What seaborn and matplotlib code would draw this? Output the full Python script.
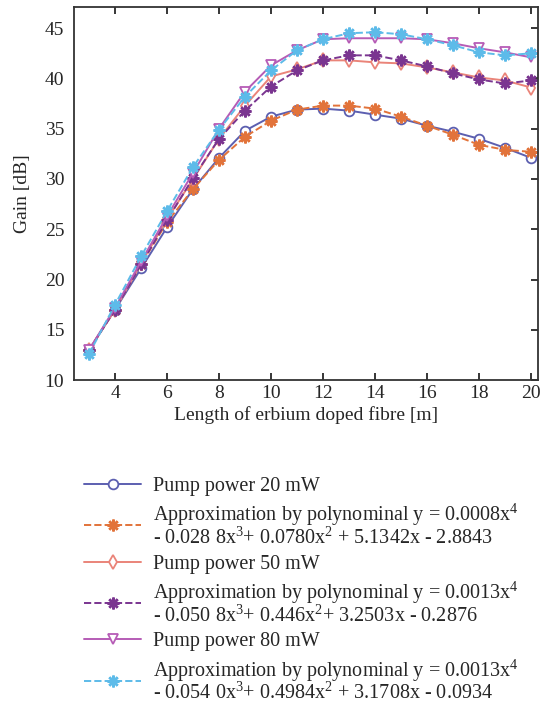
import matplotlib
matplotlib.use('Agg')
import matplotlib.pyplot as plt
import seaborn as sns
import pandas as pd

# Fibre lengths [m]
lengths = list(range(3, 21))

# Measured gain [dB] and polynomial approximations
pump_20 = [13.0, 17.0, 21.1, 25.2, 29.0, 32.1, 34.8, 36.2, 36.9, 37.0, 36.8, 36.4, 36.0, 35.3, 34.7, 34.0, 33.1, 32.1]
fit_20 = [13.0, 17.0, 21.5, 25.7, 29.0, 31.9, 34.2, 35.8, 36.9, 37.3, 37.3, 37.0, 36.2, 35.3, 34.4, 33.4, 32.9, 32.7]
pump_50 = [13.0, 17.0, 21.6, 26.0, 30.0, 34.0, 37.3, 40.2, 40.9, 41.8, 41.8, 41.6, 41.5, 41.1, 40.6, 40.1, 39.8, 39.1]
fit_50 = [13.0, 17.0, 21.5, 25.9, 30.1, 34.0, 36.8, 39.2, 40.8, 41.8, 42.3, 42.3, 41.8, 41.2, 40.5, 39.9, 39.5, 39.8]
pump_80 = [13.0, 17.2, 21.8, 26.3, 30.6, 35.0, 38.7, 41.3, 42.8, 43.9, 44.0, 44.0, 44.0, 43.9, 43.5, 43.0, 42.6, 42.1]
fit_80 = [12.6, 17.5, 22.3, 26.8, 31.2, 34.9, 38.2, 40.8, 42.8, 43.9, 44.5, 44.6, 44.4, 43.9, 43.3, 42.6, 42.3, 42.5]

labels = [
    'Pump power 20 mW',
    'Approximation by polynominal y = 0.0008x$^4$\n- 0.028 8x$^3$+ 0.0780x$^2$ + 5.1342x - 2.8843',
    'Pump power 50 mW',
    'Approximation by polynominal y = 0.0013x$^4$\n- 0.050 8x$^3$+ 0.446x$^2$+ 3.2503x - 0.2876',
    'Pump power 80 mW',
    'Approximation by polynominal y = 0.0013x$^4$\n- 0.054 0x$^3$+ 0.4984x$^2$ + 3.1708x - 0.0934',
]

sns.set_style('ticks')
plt.rcParams['font.family'] = ['Liberation Serif', 'DejaVu Serif']
plt.rcParams['mathtext.fontset'] = 'custom'
plt.rcParams['mathtext.rm'] = 'Liberation Serif'
plt.rcParams['mathtext.it'] = 'Liberation Serif:italic'

fig = plt.figure(figsize=(5.44, 7.09), dpi=100)
ax = fig.add_axes([0.136, 0.464, 0.853, 0.526])

styles = [
    (pump_20, '#5c5fb0', 'o', '-', 'white'),
    (fit_20, '#e2733a', (8, 2, 0), '--', None),
    (pump_50, '#ea8479', 'd', '-', 'white'),
    (fit_50, '#7a3590', (8, 2, 0), '--', None),
    (pump_80, '#b65cb6', 'v', '-', 'white'),
    (fit_80, '#5dbbe9', (8, 2, 0), '--', None),
]

for (vals, color, marker, ls, mfc), label in zip(styles, labels):
    df = pd.DataFrame({'length': lengths, 'gain': vals})
    kw = dict(markerfacecolor=mfc) if mfc else {}
    sns.lineplot(data=df, x='length', y='gain', ax=ax, color=color,
                 marker=marker, linestyle=ls, linewidth=1.4,
                 markersize=7 if mfc else 8.5, markeredgecolor=color,
                 markeredgewidth=1.3 if mfc else 1.8,
                 dashes=(4.5, 3) if ls == '--' else None,
                 label=label, **kw)

ax.set_xlim(2.42, 20.27)
ax.set_ylim(10, 47.1)
ax.set_xticks(range(4, 21, 2))
ax.set_yticks(range(10, 46, 5))
ax.tick_params(direction='in', top=True, right=True, labelsize=14, length=5, width=1.3)
ax.tick_params(axis='y', which='both', left=False, pad=7)
for s in ax.spines.values():
    s.set_linewidth(1.3)
    s.set_color('#333333')
ax.set_xlabel('Length of erbium doped fibre [m]', fontsize=14, labelpad=3)
ax.set_ylabel('Gain [dB]', fontsize=14, labelpad=10)

handles, labs = ax.get_legend_handles_labels()
if ax.legend_:
    ax.legend_.remove()
leg = fig.legend(handles, labs, loc='upper left', bbox_to_anchor=(0.122, 0.353),
                 frameon=False, fontsize=14.5, handlelength=2.8, handletextpad=0.6,
                 labelspacing=0.3)
for t in leg.get_texts():
    t.set_linespacing(0.95)

fig.savefig('out.png', dpi=100)
